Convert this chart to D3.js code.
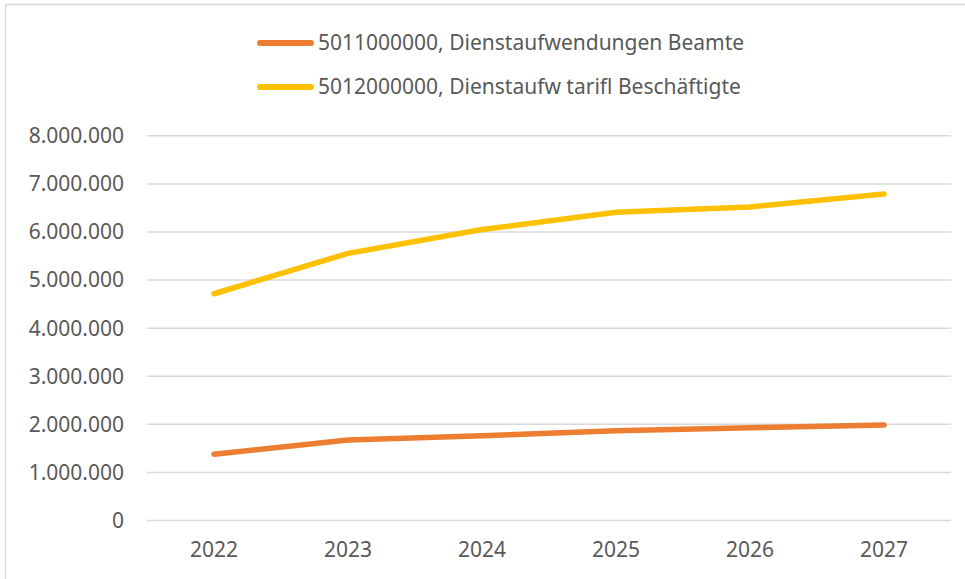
<!DOCTYPE html>
<html><head><meta charset="utf-8">
<script src="https://cdn.jsdelivr.net/npm/d3@7"></script>
<style>body{margin:0;background:#fff}svg{display:block}text{font-family:"Noto Sans",sans-serif;fill:#595959}</style>
</head><body><svg id="c" width="965" height="579"></svg>
<script>
const years = ["2022","2023","2024","2025","2026","2027"];
const beamte = [1366000, 1663000, 1753000, 1857000, 1920000, 1975000];
const tarif = [4705000, 5545000, 6040000, 6400000, 6510000, 6780000];
const seriesNames = ["5011000000, Dienstaufwendungen Beamte", "5012000000, Dienstaufw tarifl Beschäftigte"];
const seriesColors = ["#ED7D31", "#FFC000"];
const yTicks = [0,1000000,2000000,3000000,4000000,5000000,6000000,7000000,8000000];

const svg = d3.select("#c");
svg.append("path").attr("d","M5.5,579V4.5H965").attr("fill","none").attr("stroke","#d9d9d9").attr("stroke-width",1.5);

const x = d3.scaleBand().domain(years).range([147, 951]);
const y = d3.scaleLinear().domain([0, 8000000]).range([520, 135.3]);
const fmt = v => d3.format(",")(v).replace(/,/g, ".");

const ya = svg.append("g").attr("transform","translate(147,0)")
  .call(d3.axisLeft(y).tickValues(yTicks).tickFormat(fmt).tickSize(-804).tickPadding(23));
ya.select(".domain").remove();
ya.selectAll(".tick line").attr("stroke","#d9d9d9").attr("stroke-width",1.5);
ya.selectAll(".tick text").attr("font-size","21px").attr("fill","#595959").attr("dy","0.35em");

const xa = svg.append("g").attr("transform","translate(0,520)")
  .call(d3.axisBottom(x).tickSize(0).tickPadding(22));
xa.select(".domain").remove();
xa.selectAll(".tick text").attr("font-size","21px").attr("fill","#595959");

const line = d3.line().x((d,i)=>x(years[i])+x.bandwidth()/2).y(d=>y(d));
[beamte, tarif].forEach((s,i)=>{
  svg.append("path").datum(s).attr("d",line).attr("fill","none")
    .attr("stroke",seriesColors[i]).attr("stroke-width",5.5)
    .attr("stroke-linecap","round").attr("stroke-linejoin","round");
});

const lg = svg.append("g");
seriesNames.forEach((n,i)=>{
  const yy = 43 + i*44;
  lg.append("line").attr("x1",260).attr("x2",311).attr("y1",yy).attr("y2",yy)
    .attr("stroke",seriesColors[i]).attr("stroke-width",6).attr("stroke-linecap","round");
  lg.append("text").attr("x",318).attr("y",yy).attr("dy","0.35em").attr("font-size","21px").text(n);
});
</script></body></html>
